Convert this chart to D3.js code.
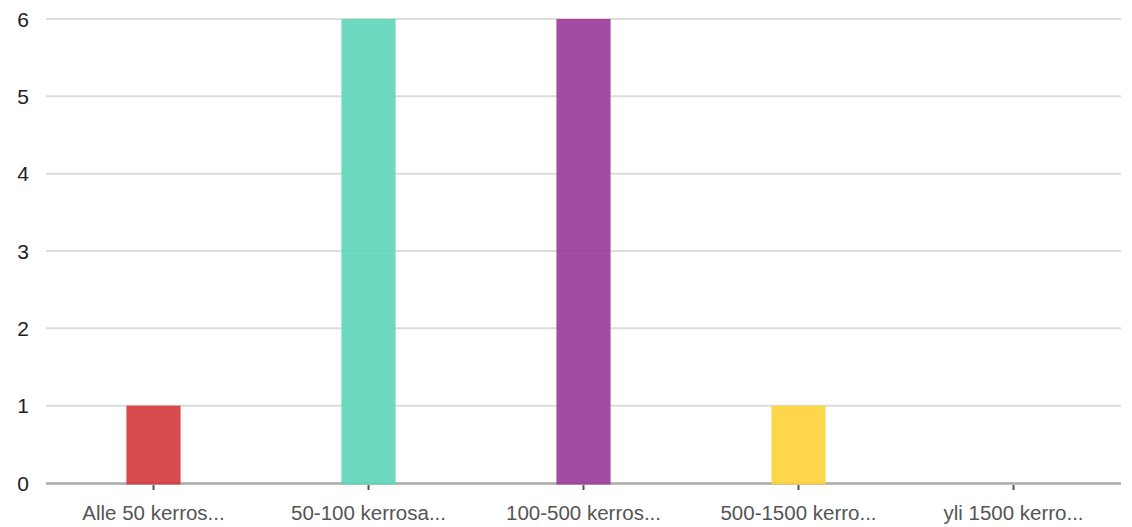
<!DOCTYPE html>
<html>
<head>
<meta charset="utf-8">
<script src="https://cdn.jsdelivr.net/npm/d3@7"></script>
<style>
  html, body { margin: 0; padding: 0; background: #fff; }
  svg { display: block; font-family: "Liberation Sans", Arial, sans-serif; }
</style>
</head>
<body>
<svg id="chart" width="1132" height="527"></svg>
<script>
// Answer counts per category
const categories = ["Alle 50 kerros...", "50-100 kerrosa...", "100-500 kerros...", "500-1500 kerro...", "yli 1500 kerro..."];
const counts = [1, 6, 6, 1, 0];
const barColors = ["rgb(209,55,58)", "rgb(93,213,184)", "rgb(154,56,153)", "rgb(254,209,55)", "rgb(80,130,220)"];
const yTicks = [0, 1, 2, 3, 4, 5, 6];

const width = 1132, height = 527;
const margin = { left: 46, right: 11, top: 19, bottom: 44 };

const svg = d3.select("#chart");

const x = d3.scaleBand()
  .domain(categories)
  .range([margin.left, width - margin.right])
  .paddingInner(0)
  .paddingOuter(0);

const y = d3.scaleLinear()
  .domain([0, 6])
  .range([height - margin.bottom, margin.top]);

// horizontal gridlines
svg.append("g")
  .selectAll("line")
  .data(yTicks.filter(d => d > 0))
  .join("line")
  .attr("x1", margin.left)
  .attr("x2", width - margin.right)
  .attr("y1", d => y(d))
  .attr("y2", d => y(d))
  .attr("stroke", "#dcdcdc")
  .attr("stroke-width", 2);

// y tick labels
svg.append("g")
  .selectAll("text")
  .data(yTicks)
  .join("text")
  .attr("x", 29)
  .attr("y", d => y(d))
  .attr("dy", "0.36em")
  .attr("text-anchor", "end")
  .attr("font-size", 21)
  .attr("fill", "#222")
  .text(d => d);

// baseline
svg.append("line")
  .attr("x1", margin.left)
  .attr("x2", width - margin.right)
  .attr("y1", y(0) + 0.5)
  .attr("y2", y(0) + 0.5)
  .attr("stroke", "#ababab")
  .attr("stroke-width", 2.5);

// bars (zero counts draw nothing)
const barW = x.bandwidth() * 0.252;
svg.append("g")
  .selectAll("rect")
  .data(categories.map((c, i) => ({ c, v: counts[i], color: barColors[i] })).filter(d => d.v > 0))
  .join("rect")
  .attr("x", d => x(d.c) + x.bandwidth() / 2 - barW / 2)
  .attr("y", d => y(d.v))
  .attr("width", barW)
  .attr("height", d => y(0) + 1.5 - y(d.v))
  .attr("fill", d => d.color)
  .attr("fill-opacity", 0.9);

// x axis ticks and labels
const xg = svg.append("g");
xg.selectAll("line")
  .data(categories)
  .join("line")
  .attr("x1", d => x(d) + x.bandwidth() / 2)
  .attr("x2", d => x(d) + x.bandwidth() / 2)
  .attr("y1", y(0) + 2)
  .attr("y2", y(0) + 7)
  .attr("stroke", "#555")
  .attr("stroke-width", 2);

xg.selectAll("text")
  .data(categories)
  .join("text")
  .attr("x", d => x(d) + x.bandwidth() / 2)
  .attr("y", 520)
  .attr("text-anchor", "middle")
  .attr("font-size", 20.5)
  .attr("fill", "#555")
  .text(d => d);
</script>
</body>
</html>
